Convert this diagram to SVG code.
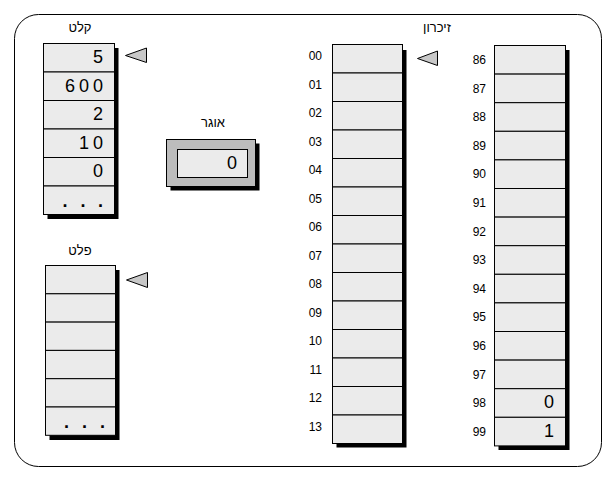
<svg xmlns="http://www.w3.org/2000/svg" width="615" height="477" viewBox="0 0 615 477">
<style>
text{font-family:"Liberation Sans","DejaVu Sans",Arial,sans-serif;fill:#000}
.cell{fill:#ebebeb;stroke:#000;stroke-width:1}
.sh{fill:#000}
.ptr{fill:#c8c8c8;stroke:#000;stroke-width:1}
.title{font-size:13px;text-anchor:middle}
.addr{font-size:12px;text-anchor:end}
.val{font-size:18px;text-anchor:end;letter-spacing:4px}
.dots{font-size:18px;font-weight:bold}
</style>
<rect x="14.5" y="14.5" width="587" height="452" rx="24" ry="24" fill="#fff" stroke="#000" stroke-width="1"/>

<g id="input">
<text class="title" x="80" y="32">קלט</text>
<rect class="sh" x="47.5" y="48" width="71" height="171"/>
<rect class="cell" x="43.5" y="43.5" width="71" height="28.5"/>
<rect class="cell" x="43.5" y="72" width="71" height="28.5"/>
<rect class="cell" x="43.5" y="100.5" width="71" height="28.5"/>
<rect class="cell" x="43.5" y="129" width="71" height="28.5"/>
<rect class="cell" x="43.5" y="157.5" width="71" height="28.5"/>
<rect class="cell" x="43.5" y="186" width="71" height="28.5"/>
<text class="val" x="107" y="63">5</text>
<text class="val" x="107" y="91.5">600</text>
<text class="val" x="107" y="120">2</text>
<text class="val" x="107" y="148.5">10</text>
<text class="val" x="107" y="177">0</text>
<text class="dots" x="62.5 80.5 98" y="207">...</text>
</g>

<g id="accumulator">
<text class="title" x="213" y="127">אוגר</text>
<rect class="sh" x="170.5" y="143.5" width="89" height="47"/>
<rect x="166.5" y="139.5" width="89" height="47" fill="#bcbcbc" stroke="#000"/>
<rect x="177.5" y="149.5" width="70" height="28" fill="#ebebeb" stroke="#000"/>
<text class="val" x="241" y="169">0</text>
</g>

<g id="output">
<text class="title" x="80" y="255">פלט</text>
<rect class="sh" x="49.5" y="270" width="70" height="170"/>
<rect class="cell" x="45.5" y="265.5" width="70" height="28.3"/>
<rect class="cell" x="45.5" y="293.8" width="70" height="28.3"/>
<rect class="cell" x="45.5" y="322.1" width="70" height="28.3"/>
<rect class="cell" x="45.5" y="350.4" width="70" height="28.3"/>
<rect class="cell" x="45.5" y="378.7" width="70" height="28.3"/>
<rect class="cell" x="45.5" y="407" width="70" height="28.3"/>
<text class="dots" x="64 82 100" y="428">...</text>
</g>

<g id="memory">
<text class="title" x="437" y="32">זיכרון</text>
<rect class="sh" x="336.5" y="50" width="70" height="397.5"/>
<rect class="cell" x="332.5" y="44.5" width="70" height="28.5"/>
<rect class="cell" x="332.5" y="73" width="70" height="28.5"/>
<rect class="cell" x="332.5" y="101.5" width="70" height="28.5"/>
<rect class="cell" x="332.5" y="130" width="70" height="28.5"/>
<rect class="cell" x="332.5" y="158.5" width="70" height="28.5"/>
<rect class="cell" x="332.5" y="187" width="70" height="28.5"/>
<rect class="cell" x="332.5" y="215.5" width="70" height="28.5"/>
<rect class="cell" x="332.5" y="244" width="70" height="28.5"/>
<rect class="cell" x="332.5" y="272.5" width="70" height="28.5"/>
<rect class="cell" x="332.5" y="301" width="70" height="28.5"/>
<rect class="cell" x="332.5" y="329.5" width="70" height="28.5"/>
<rect class="cell" x="332.5" y="358" width="70" height="28.5"/>
<rect class="cell" x="332.5" y="386.5" width="70" height="28.5"/>
<rect class="cell" x="332.5" y="415" width="70" height="28.5"/>
<text class="addr" x="322" y="60">00</text>
<text class="addr" x="322" y="88.5">01</text>
<text class="addr" x="322" y="117">02</text>
<text class="addr" x="322" y="145.5">03</text>
<text class="addr" x="322" y="174">04</text>
<text class="addr" x="322" y="202.5">05</text>
<text class="addr" x="322" y="231">06</text>
<text class="addr" x="322" y="259.5">07</text>
<text class="addr" x="322" y="288">08</text>
<text class="addr" x="322" y="316.5">09</text>
<text class="addr" x="322" y="345">10</text>
<text class="addr" x="322" y="373.5">11</text>
<text class="addr" x="322" y="402">12</text>
<text class="addr" x="322" y="430.5">13</text>

<rect class="sh" x="498.5" y="50" width="71" height="400"/>
<rect class="cell" x="494.5" y="45.5" width="71" height="28.6"/>
<rect class="cell" x="494.5" y="74.1" width="71" height="28.6"/>
<rect class="cell" x="494.5" y="102.7" width="71" height="28.6"/>
<rect class="cell" x="494.5" y="131.3" width="71" height="28.6"/>
<rect class="cell" x="494.5" y="159.9" width="71" height="28.6"/>
<rect class="cell" x="494.5" y="188.5" width="71" height="28.6"/>
<rect class="cell" x="494.5" y="217.1" width="71" height="28.6"/>
<rect class="cell" x="494.5" y="245.7" width="71" height="28.6"/>
<rect class="cell" x="494.5" y="274.3" width="71" height="28.6"/>
<rect class="cell" x="494.5" y="302.9" width="71" height="28.6"/>
<rect class="cell" x="494.5" y="331.5" width="71" height="28.6"/>
<rect class="cell" x="494.5" y="360.1" width="71" height="28.6"/>
<rect class="cell" x="494.5" y="388.7" width="71" height="28.6"/>
<rect class="cell" x="494.5" y="417.3" width="71" height="28.6"/>
<text class="addr" x="486" y="64">86</text>
<text class="addr" x="486" y="92.6">87</text>
<text class="addr" x="486" y="121.2">88</text>
<text class="addr" x="486" y="149.8">89</text>
<text class="addr" x="486" y="178.4">90</text>
<text class="addr" x="486" y="207">91</text>
<text class="addr" x="486" y="235.6">92</text>
<text class="addr" x="486" y="264.2">93</text>
<text class="addr" x="486" y="292.8">94</text>
<text class="addr" x="486" y="321.4">95</text>
<text class="addr" x="486" y="350">96</text>
<text class="addr" x="486" y="378.6">97</text>
<text class="addr" x="486" y="407.2">98</text>
<text class="addr" x="486" y="435.8">99</text>
<text class="val" x="558" y="408">0</text>
<text class="val" x="558" y="437">1</text>
</g>

<g id="pointers">
<polygon class="ptr" points="125.5,55.5 146.5,48 146.5,62.5"/>
<polygon class="ptr" points="126.5,280 147.5,272.5 147.5,287.5"/>
<polygon class="ptr" points="417.5,58.5 437.5,51 437.5,65.5"/>
</g>
</svg>
